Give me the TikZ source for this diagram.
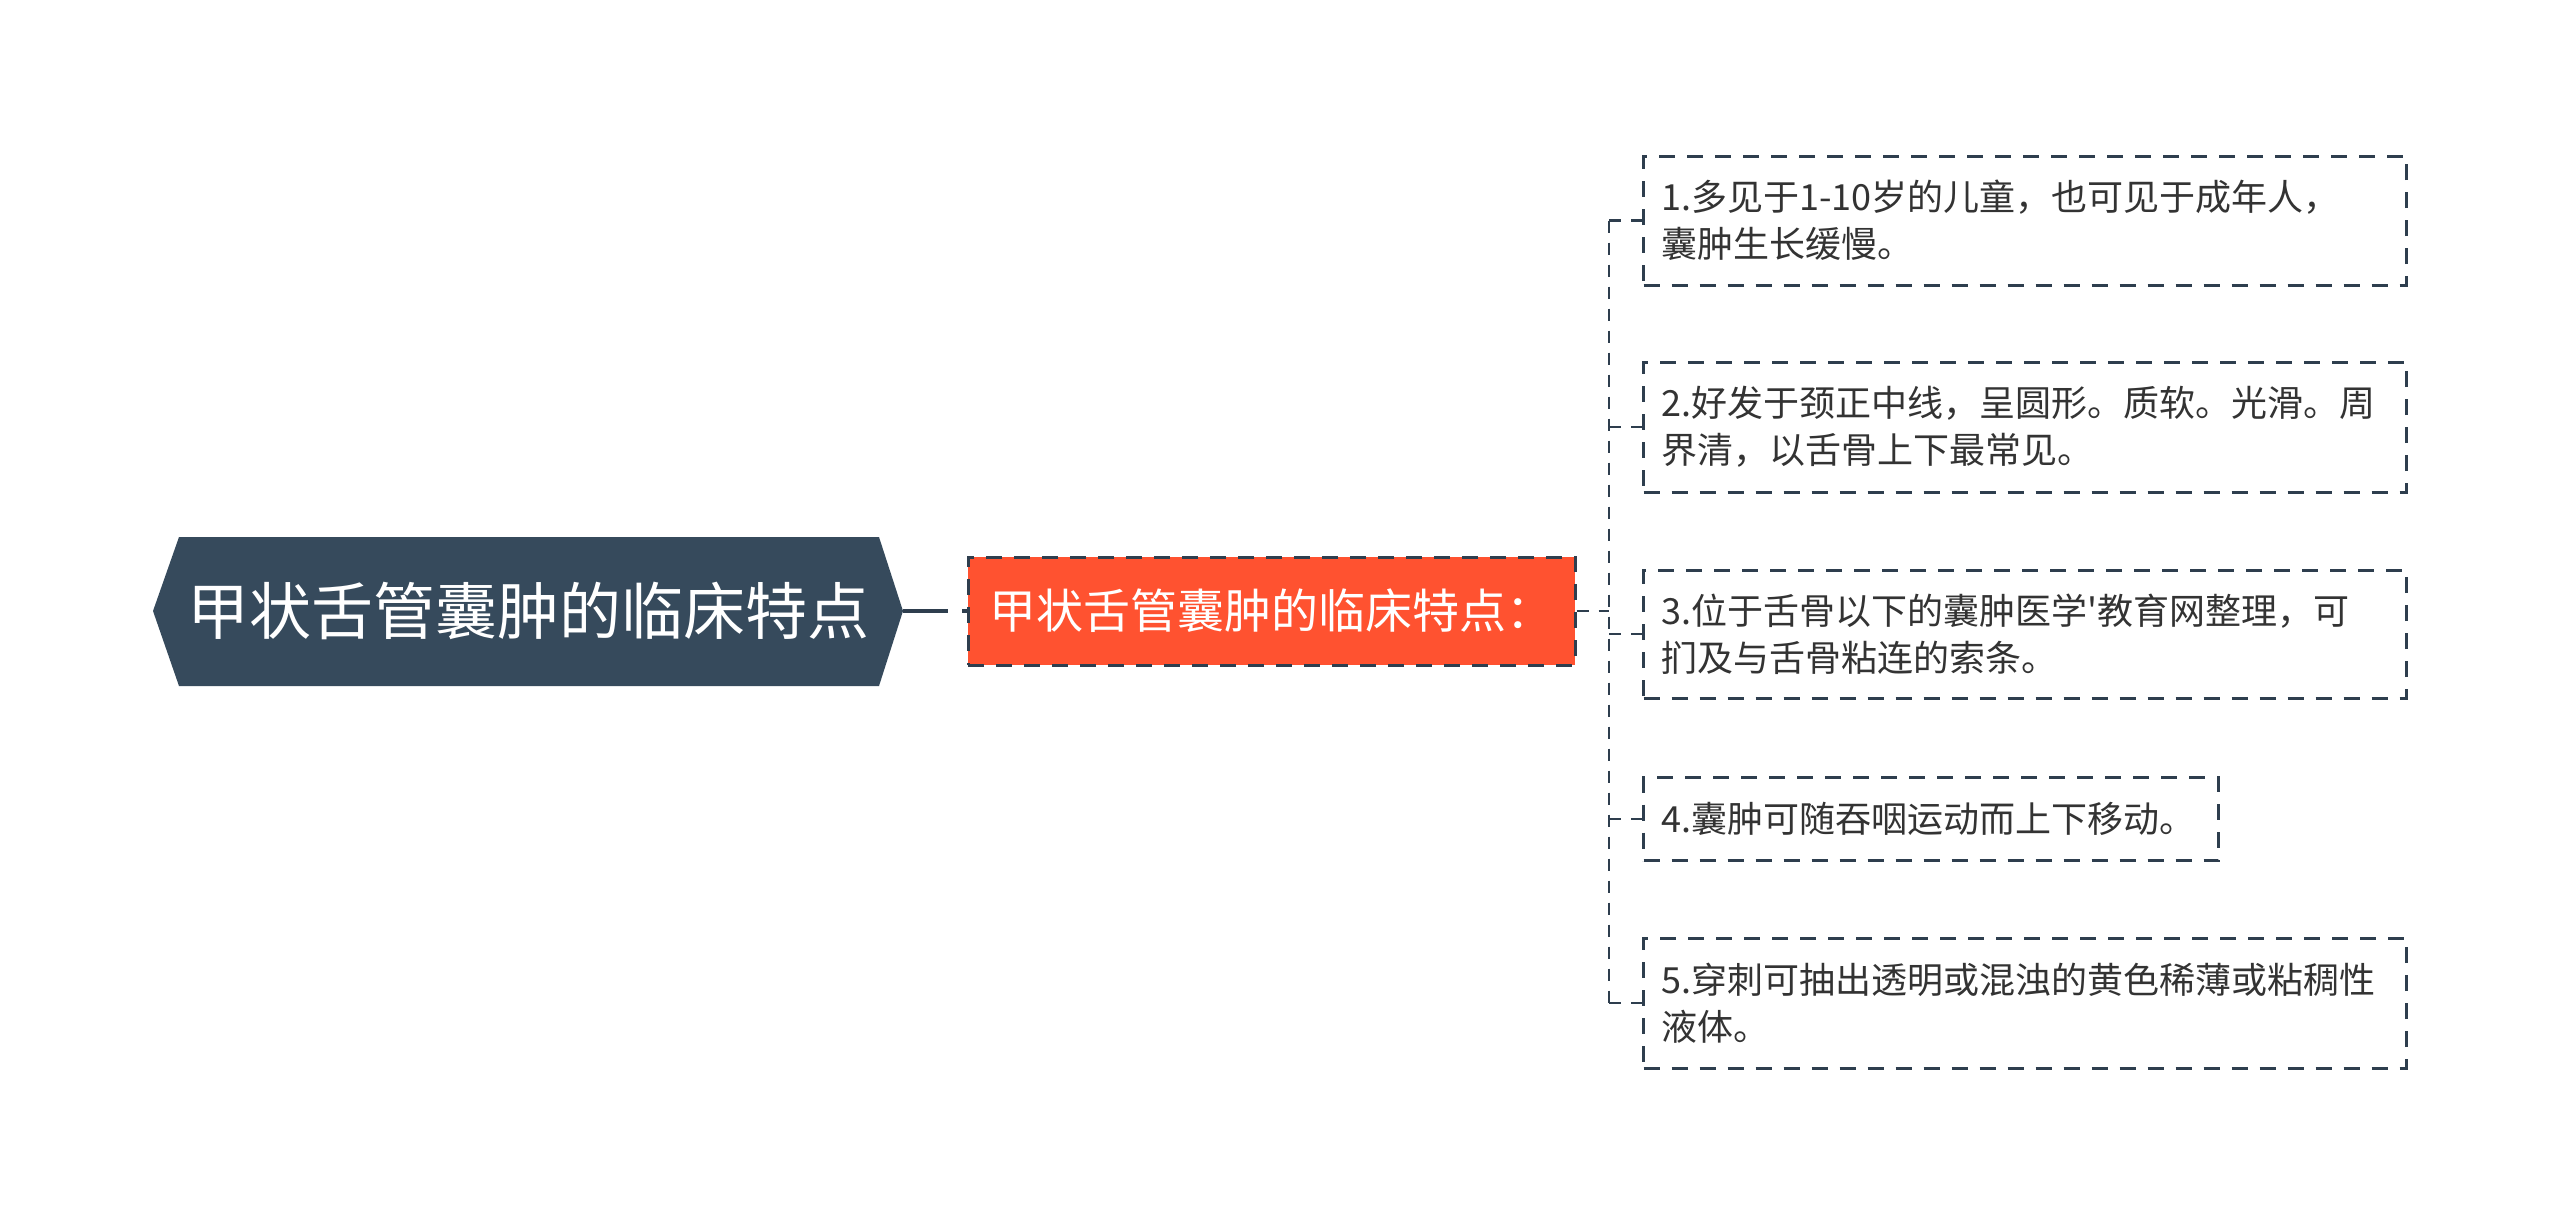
\documentclass[tikz,border=0pt]{standalone}
\usepackage{fontspec}
\newfontfamily\cjk{Noto Sans CJK SC}
\usetikzlibrary{calc}
\definecolor{rootc}{HTML}{364A5C}
\definecolor{midc}{HTML}{FF5230}
\definecolor{linec}{HTML}{2E3E4E}
\definecolor{txtc}{HTML}{333333}
\begin{document}
\begin{tikzpicture}[x=1pt,y=-1pt,
  leafbox/.style={draw=linec, line width=3pt, dash pattern=on 16pt off 12pt,
    anchor=west, align=left, inner xsep=18pt, inner ysep=0pt, text=txtc,
    font=\cjk\fontsize{36}{47}\selectfont},
  midbox/.style={draw=linec, fill=midc, line width=3pt, dash pattern=on 16pt off 12pt,
    text=white, inner sep=0pt, minimum width=607pt, minimum height=108pt,
    font=\cjk\fontsize{47}{56}\selectfont},
  rootbox/.style={text=white, inner sep=0pt, minimum width=750pt, minimum height=150pt,
    font=\cjk\fontsize{62}{74}\selectfont},
  rootlink/.style={draw=linec, line width=4pt, dash pattern=on 45pt off 14pt},
  leaflink/.style={draw=linec, line width=2.4pt, dash pattern=on 12pt off 10pt}
]
\useasboundingbox (0,0) rectangle (2560,1223);
\fill[white] (0,0) rectangle (2560,1223);

% root hexagon
\fill[rootc] (153,611) -- (179,537) -- (879,537) -- (903,611) -- (879,686) -- (179,686) -- cycle;
\node[rootbox] (root) at (528,611) {甲状舌管囊肿的临床特点};

% middle node
\node[midbox] (mid) at (1271.5,611) {甲状舌管囊肿的临床特点：};

% leaves
\node[leafbox, minimum width=763pt, text width=727pt, minimum height=129pt] (l1) at (1642,220.5)
  {1.多见于1-10岁的儿童，也可见于成年人，\\囊肿生长缓慢。};
\node[leafbox, minimum width=763pt, text width=727pt, minimum height=130pt] (l2) at (1642,427)
  {2.好发于颈正中线，呈圆形。质软。光滑。周\\界清，以舌骨上下最常见。};
\node[leafbox, minimum width=763pt, text width=727pt, minimum height=128pt] (l3) at (1642,634)
  {3.位于舌骨以下的囊肿医学'教育网整理，可\\扪及与舌骨粘连的索条。};
\node[leafbox, minimum width=575pt, text width=539pt, minimum height=83pt] (l4) at (1642,819)
  {4.囊肿可随吞咽运动而上下移动。};
\node[leafbox, minimum width=763pt, text width=727pt, minimum height=130pt] (l5) at (1642,1003)
  {5.穿刺可抽出透明或混浊的黄色稀薄或粘稠性\\液体。};

% connectors
\draw[rootlink] (root.east) -- (mid.west);
\coordinate (sp) at (1609,611);
\draw[leaflink] (mid.east) -- (sp);
\draw[leaflink] (sp |- l1.west) -- (sp |- l5.west);
\foreach \n in {l1,l2,l3,l4,l5} {
  \draw[leaflink] (sp |- \n.west) -- (\n.west);
}
\end{tikzpicture}
\end{document}
